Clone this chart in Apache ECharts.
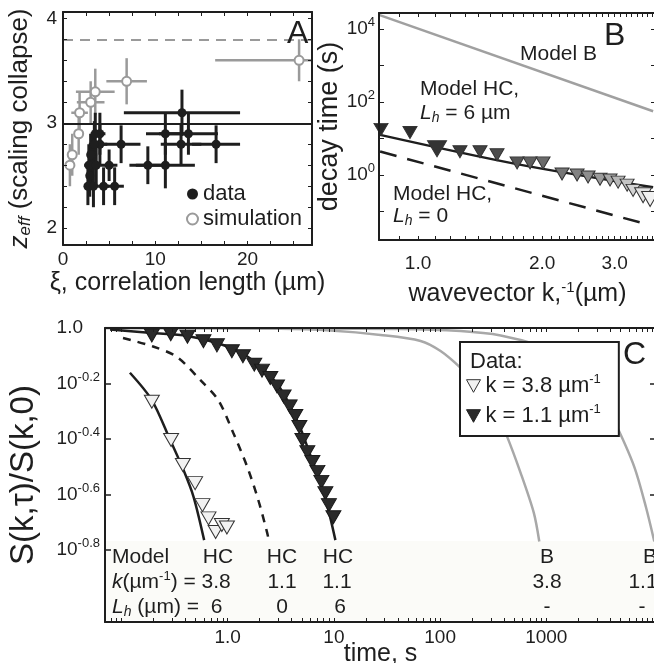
<!DOCTYPE html>
<html><head><meta charset="utf-8">
<script src="https://cdn.jsdelivr.net/npm/echarts@6/dist/echarts.min.js"></script>
<style>html,body{margin:0;padding:0;background:#fff}#c{width:654px;height:663px}</style>
</head><body><div id="c"></div>
<script>
// ---------- Panel A ----------
const aDataX    = [12.9, 11.1, 13.6, 12.8, 16.6, 6.3, 4.0, 4.0, 3.4, 3.5, 9.2, 11.1, 5.0, 3.2, 2.8, 5.6, 4.4, 2.7, 3.2, 2.9, 3.0, 3.3, 3.6];
const aDataY    = [3.1, 2.9, 2.9, 2.8, 2.8, 2.8, 2.9, 2.8, 2.8, 2.9, 2.6, 2.6, 2.6, 2.6, 2.6, 2.4, 2.4, 2.4, 2.7, 2.5, 2.7, 2.4, 2.6];
const aDataXErr = [6.3, 2.1, 3.2, 2.2, 2.6, 2.1, 0.6, 0.8, 0.6, 0.5, 2.0, 3.2, 0.9, 0.6, 0.5, 1.0, 0.6, 0.4, 0.5, 0.4, 0.4, 0.5, 0.5];
const aDataYErr = [0.22, 0.2, 0.2, 0.2, 0.18, 0.18, 0.2, 0.2, 0.22, 0.2, 0.18, 0.22, 0.15, 0.2, 0.2, 0.18, 0.18, 0.18, 0.2, 0.2, 0.2, 0.2, 0.2];
const aSimX     = [0.75, 1.0, 1.7, 1.8, 3.0, 3.5, 6.9, 25.6];
const aSimY     = [2.6, 2.7, 2.9, 3.1, 3.2, 3.3, 3.4, 3.6];
const aSimXErr  = [0.3, 0.4, 0.4, 0.9, 1.5, 2.1, 2.2, 9.1];
const aSimYErr  = [0.2, 0.2, 0.2, 0.2, 0.2, 0.22, 0.22, 0.2];
const aRefSolid = 3;
const aRefDashed = 3.8;
const aYLabels = [2, 3, 4];
const aXLabels = [0, 10, 20];

// ---------- Panel B ----------
const bK   = [0.813, 0.956, 1.112, 1.264, 1.414, 1.555, 1.739, 1.870, 2.011, 2.236, 2.432, 2.586, 2.765, 2.924, 3.058, 3.216, 3.325, 3.517, 3.658];
const bTau = [17.8, 14.7, 5.27, 4.35, 4.35, 3.59, 2.15, 2.15, 2.15, 1.07, 1.0, 0.88, 0.77, 0.73, 0.64, 0.53, 0.38, 0.28, 0.22];
const bModelBK = [0.804, 3.72],  bModelBTau = [24500, 56];
const bHC6K = [0.809, 1.70, 3.72], bHC6Tau = [12.6, 2.09, 0.46];
const bHC0K = [0.809, 3.56],     bHC0Tau = [4.4, 0.046];
const bXLabels = [1, 2, 3];
const bYLabels = [1, 100, 10000];

// ---------- Panel C ----------
const c38T = [0.193, 0.293, 0.378, 0.493, 0.578, 0.659, 0.770, 0.881, 0.983];
const c38S = [0.542, 0.395, 0.321, 0.276, 0.230, 0.206, 0.184, 0.195, 0.191];
const c11T = [0.193, 0.291, 0.418, 0.591, 0.791, 1.095, 1.391, 1.778, 2.102, 2.518, 2.912, 3.36, 3.83, 4.33, 4.73, 5.05, 5.62, 6.27, 6.99, 7.62, 8.31, 8.97, 9.89];
const c11S = [0.94, 0.95, 0.93, 0.896, 0.866, 0.824, 0.791, 0.738, 0.702, 0.660, 0.616, 0.567, 0.522, 0.482, 0.440, 0.395, 0.357, 0.329, 0.303, 0.279, 0.254, 0.230, 0.208];
const cHC38T = [0.120, 0.193, 0.287, 0.383, 0.476, 0.600];
const cHC38S = [0.690, 0.550, 0.395, 0.308, 0.247, 0.172];
const cHC11L0T = [0.1033, 0.198, 0.334, 0.551, 0.814, 1.127, 1.527, 1.94, 2.36, 2.437];
const cHC11L0S = [0.920, 0.858, 0.786, 0.650, 0.550, 0.419, 0.316, 0.240, 0.182, 0.171];
const cHC11L6T = [0.078, 0.194, 0.415, 0.796, 1.40, 2.11, 2.93, 3.80, 4.83, 6.00, 7.46, 8.87, 10.33];
const cHC11L6S = [0.988, 0.959, 0.936, 0.883, 0.806, 0.718, 0.628, 0.532, 0.436, 0.348, 0.279, 0.221, 0.172];
const cB38T = [0.0699, 3.13, 9.27, 27.5, 65.5, 101, 156, 241, 334, 415, 574, 762, 859];
const cB38S = [1.0, 0.993, 0.979, 0.944, 0.898, 0.826, 0.718, 0.603, 0.502, 0.418, 0.300, 0.216, 0.170];
const cB11T = [0.0699, 42.4, 156, 372, 887, 1370, 2115, 3266, 4695, 6736, 8685, 10400];
const cB11S = [1.0, 0.992, 0.975, 0.940, 0.861, 0.793, 0.700, 0.574, 0.436, 0.316, 0.226, 0.170];
const cXLabels = [1, 10, 100, 1000];
const cYExps = [-0.8, -0.6, -0.4, -0.2, 0];

// ---------- helpers ----------
const FONT = 'Liberation Sans, Arial, sans-serif';
const INK = '#1e1e1e';
const zip = (a, b) => a.map((v, i) => [v, b[i]]);
const zip4 = (a, b, c, d) => a.map((v, i) => [v, b[i], c[i], d[i]]);
const range = (a, b, s) => { const r = []; for (let v = a; v <= b + 1e-9; v += s) r.push(Math.round(v * 1000) / 1000); return r; };
const logTicks = (d0, d1) => { const r = []; for (let d = d0; d <= d1; d++) for (let m = 1; m < 10; m++) r.push(m * Math.pow(10, d)); return r; };
const supRich = { b: { fontSize: 19, fontFamily: FONT, color: INK }, s: { fontSize: 13, fontFamily: FONT, color: INK, padding: [0, 0, 13, 0] },
  p: { fontSize: 19, fontFamily: FONT, color: INK, padding: [0, 17, 0, 0] } };
const lineSt = { color: INK, width: 2 };

function boxAxis(o) {
  return Object.assign({
    z: 10,
    nameMoveOverlap: false,
    splitLine: { show: false },
    axisLine: { show: true, onZero: false, lineStyle: lineSt },
    axisTick: { show: true, inside: true, length: 4, lineStyle: { color: INK, width: 1 } },
    axisLabel: { show: false },
    nameTextStyle: { fontFamily: FONT, fontSize: 25, color: INK }
  }, o);
}

function errorBars(x, y, xe, ye, color, width) {
  return {
    type: 'custom', xAxisIndex: 0, yAxisIndex: 0, clip: true, silent: true, z: 3,
    data: zip4(x, y, xe, ye),
    encode: { x: 0, y: 1 },
    renderItem: (params, api) => {
      const vx = api.value(0), vy = api.value(1), ex = api.value(2), ey = api.value(3);
      const l = api.coord([vx - ex, vy]), r = api.coord([vx + ex, vy]);
      const t = api.coord([vx, vy + ey]), b = api.coord([vx, vy - ey]);
      const style = { stroke: color, lineWidth: width };
      return { type: 'group', children: [
        { type: 'line', shape: { x1: l[0], y1: l[1], x2: r[0], y2: r[1] }, style },
        { type: 'line', shape: { x1: t[0], y1: t[1], x2: b[0], y2: b[1] }, style }
      ] };
    }
  };
}

function grayShade(i, n) {
  const v = Math.round(0x2a + (0xf2 - 0x2a) * Math.pow(i / (n - 1), 1.4));
  const h = v.toString(16).padStart(2, '0');
  return '#' + h + h + h;
}

const txt = (x, y, text, extra) => ({
  type: 'text', x, y, z: 50,
  style: Object.assign({ text, font: '21px ' + FONT, fill: INK, textAlign: 'left', textVerticalAlign: 'middle' }, extra || {})
});
const italRich = {
  it: { fontStyle: 'italic', fontSize: 21, fontFamily: FONT, color: INK },
  sub: { fontStyle: 'italic', fontSize: 14, fontFamily: FONT, color: INK, padding: [10, 0, 0, 0] },
  sup: { fontSize: 13, fontFamily: FONT, color: INK, padding: [0, 0, 12, 0] },
  n: { fontSize: 21, fontFamily: FONT, color: INK }
};

const chart = echarts.init(document.getElementById('c'), null, { renderer: 'canvas' });

const gridBase = { show: false, containLabel: false, outerBoundsMode: 'none' };
const cYTicks = cYExps.map(e => Math.pow(10, e));
const option = {
  animation: false,
  backgroundColor: '#fff',
  textStyle: { fontFamily: FONT },
  grid: [
    Object.assign({ left: 63, top: 12, width: 249, height: 233 }, gridBase),
    Object.assign({ left: 379, top: 13, width: 277, height: 227 }, gridBase),
    Object.assign({ left: 105, top: 328, width: 551, height: 294 }, gridBase)
  ],
  xAxis: [
    boxAxis({ gridIndex: 0, type: 'value', min: 0, max: 27, position: 'bottom',
      axisTick: { show: true, inside: true, length: 4, customValues: range(0, 27, 2.5), lineStyle: { color: INK } },
      axisLabel: { show: true, customValues: aXLabels, fontSize: 19, color: INK, margin: 5, fontFamily: FONT },
      name: 'ξ, correlation length (µm)', nameLocation: 'middle', nameGap: 26 }),
    boxAxis({ gridIndex: 0, type: 'value', min: 0, max: 27, position: 'top',
      axisTick: { show: true, inside: true, length: 4, customValues: range(0, 27, 2.5), lineStyle: { color: INK } } }),
    boxAxis({ gridIndex: 1, type: 'log', min: 0.804, max: 3.78, position: 'bottom',
      axisTick: { show: true, inside: true, length: 4, customValues: range(0.9, 3.7, 0.1), lineStyle: { color: INK } },
      axisLabel: { show: true, customValues: bXLabels, fontSize: 19, color: INK, margin: 14, fontFamily: FONT, formatter: v => v.toFixed(1) },
      name: 'wavevector k,{s|-1}(µm)', nameLocation: 'middle', nameGap: 40,
      nameTextStyle: { fontFamily: FONT, fontSize: 25, color: INK, rich: { s: { fontSize: 15, fontFamily: FONT, color: INK, padding: [0, 0, 14, 0] } } } }),
    boxAxis({ gridIndex: 1, type: 'log', min: 0.804, max: 3.78, position: 'top',
      axisTick: { show: true, inside: true, length: 4, customValues: range(0.9, 3.7, 0.1), lineStyle: { color: INK } } }),
    boxAxis({ gridIndex: 2, type: 'log', min: 0.0699, max: 10790, position: 'bottom',
      axisTick: { show: true, inside: true, length: 4, customValues: logTicks(-2, 4), lineStyle: { color: INK } },
      axisLabel: { show: true, customValues: cXLabels, fontSize: 19, color: INK, margin: 6, fontFamily: FONT, formatter: v => v === 1 ? '1.0' : String(Math.round(v)) },
      name: 'time, s', nameLocation: 'middle', nameGap: 20, nameTextStyle: { fontFamily: FONT, fontSize: 25, color: INK } }),
    boxAxis({ gridIndex: 2, type: 'log', min: 0.0699, max: 10790, position: 'top',
      axisTick: { show: true, inside: true, length: 4, customValues: logTicks(-2, 4), lineStyle: { color: INK } } })
  ],
  yAxis: [
    boxAxis({ gridIndex: 0, type: 'value', min: 1.84, max: 4.06, position: 'left',
      axisTick: { show: true, inside: true, length: 4, customValues: range(2, 4, 0.2), lineStyle: { color: INK } },
      axisLabel: { show: true, customValues: aYLabels, fontSize: 19, color: INK, margin: 6, fontFamily: FONT },
      name: '{i|z}{sub|eff} (scaling collapse)', nameLocation: 'middle', nameGap: 29,
      nameTextStyle: { fontFamily: FONT, fontSize: 26, color: INK, rich: {
        i: { fontStyle: 'italic', fontSize: 26, fontFamily: FONT, color: INK },
        sub: { fontStyle: 'italic', fontSize: 17, fontFamily: FONT, color: INK, padding: [12, 0, 0, 0] } } } }),
    boxAxis({ gridIndex: 0, type: 'value', min: 1.84, max: 4.06, position: 'right',
      axisTick: { show: true, inside: true, length: 4, customValues: range(2, 4, 0.2), lineStyle: { color: INK } } }),
    boxAxis({ gridIndex: 1, type: 'log', min: 0.0166, max: 27540, position: 'left',
      axisTick: { show: true, inside: true, length: 5, customValues: [0.1, 1, 10, 100, 1000, 10000], lineStyle: { color: INK } },
      axisLabel: { show: true, customValues: bYLabels, margin: 4, rich: supRich,
        formatter: v => '{b|10}{s|' + Math.round(Math.log10(v)) + '}' },
      name: 'decay time (s)', nameLocation: 'middle', nameGap: 36, nameTextStyle: { fontFamily: FONT, fontSize: 27, color: INK } }),
    boxAxis({ gridIndex: 1, type: 'log', min: 0.0166, max: 27540, position: 'right',
      axisTick: { show: true, inside: true, length: 5, customValues: [0.1, 1, 10, 100, 1000, 10000], lineStyle: { color: INK } } }),
    boxAxis({ gridIndex: 2, type: 'log', min: 0.0872, max: 1, position: 'left',
      axisTick: { show: true, inside: true, length: 6, customValues: cYTicks, lineStyle: { color: INK, width: 1.5 } },
      axisLabel: { show: true, customValues: cYTicks, margin: 5, rich: supRich,
        formatter: v => { const e = Math.round(Math.log10(v) * 10) / 10; return e === 0 ? '{p|1.0}' : '{b|10}{s|' + e.toFixed(1) + '}'; } },
      name: 'S(k,τ)/S(k,0)', nameLocation: 'middle', nameGap: 65, nameTextStyle: { fontFamily: FONT, fontSize: 33, color: INK } }),
    boxAxis({ gridIndex: 2, type: 'log', min: 0.0872, max: 1, position: 'right',
      axisTick: { show: true, inside: true, length: 6, customValues: cYTicks, lineStyle: { color: INK, width: 1.5 } } })
  ],
  legend: [
    { orient: 'vertical', left: 186, top: 183, itemGap: 3, itemWidth: 11, itemHeight: 11,
      textStyle: { fontFamily: FONT, fontSize: 22, color: INK }, padding: 0,
      data: [
        { name: 'data', icon: 'circle', itemStyle: { color: INK, borderWidth: 0 } },
        { name: 'simulation', icon: 'circle', itemStyle: { color: '#fff', borderColor: '#9a9a9a', borderWidth: 2 } }
      ] },
    { orient: 'vertical', left: 460, top: 342, itemGap: 6, itemWidth: 14, itemHeight: 13,
      padding: [31, 18, 9, 6], borderColor: INK, borderWidth: 2, backgroundColor: '#fff', z: 20,
      textStyle: { fontFamily: FONT, fontSize: 22, color: INK, rich: { n: { fontSize: 22, fontFamily: FONT, color: INK }, s: { fontSize: 13, fontFamily: FONT, color: INK, padding: [0, 0, 13, 0] } } },
      formatter: name => '{n|' + name.replace('-1', '') + '}{s|-1}',
      data: [
        { name: 'k = 3.8 µm-1', icon: 'path://M0,0 L10,0 L5,9 Z', itemStyle: { color: '#f2f2f2', borderColor: '#333', borderWidth: 1 } },
        { name: 'k = 1.1 µm-1', icon: 'path://M0,0 L10,0 L5,9 Z', itemStyle: { color: '#2a2a2a', borderColor: '#222', borderWidth: 1 } }
      ] }
  ],
  series: [
    // Panel A
    errorBars(aSimX, aSimY, aSimXErr, aSimYErr, '#9a9a9a', 2.5),
    errorBars(aDataX, aDataY, aDataXErr, aDataYErr, INK, 3),
    { type: 'scatter', name: 'simulation', xAxisIndex: 0, yAxisIndex: 0, z: 4,
      data: zip(aSimX, aSimY), symbol: 'circle', symbolSize: 9,
      itemStyle: { color: '#fff', borderColor: '#9a9a9a', borderWidth: 2, opacity: 1 },
      markLine: { silent: true, symbol: 'none', label: { show: false }, animation: false,
        lineStyle: { color: '#9a9a9a', width: 2, type: [10, 7] }, data: [{ yAxis: aRefDashed }] } },
    { type: 'scatter', name: 'data', xAxisIndex: 0, yAxisIndex: 0, z: 4,
      data: zip(aDataX, aDataY), symbol: 'circle', symbolSize: 9,
      itemStyle: { color: INK, opacity: 1 },
      markLine: { silent: true, symbol: 'none', label: { show: false }, animation: false,
        lineStyle: { color: INK, width: 2, type: 'solid' }, data: [{ yAxis: aRefSolid }] } },
    // Panel B
    { type: 'line', name: 'Model B', xAxisIndex: 2, yAxisIndex: 2, data: zip(bModelBK, bModelBTau),
      symbol: 'none', lineStyle: { color: '#a0a0a0', width: 2.5 } },
    { type: 'line', name: 'Model HC L6', xAxisIndex: 2, yAxisIndex: 2, data: zip(bHC6K, bHC6Tau),
      symbol: 'none', smooth: 0.3, lineStyle: { color: INK, width: 2.5 } },
    { type: 'line', name: 'Model HC L0', xAxisIndex: 2, yAxisIndex: 2, data: zip(bHC0K, bHC0Tau),
      symbol: 'none', lineStyle: { color: INK, width: 2.5, type: [17, 11] } },
    { type: 'scatter', name: 'decay', xAxisIndex: 2, yAxisIndex: 2, z: 5,
      data: bK.map((k, i) => ({ value: [k, bTau[i]],
        symbolSize: i === 2 ? [19, 16] : (i >= bK.length - 2 ? [17, 15] : [14, 12]),
        itemStyle: { color: grayShade(i, bK.length) } })),
      symbol: 'triangle', symbolRotate: 180,
      itemStyle: { borderColor: '#333', borderWidth: 1, opacity: 1 } },
    // Panel C
    { type: 'line', name: 'B 3.8', xAxisIndex: 4, yAxisIndex: 4, data: zip(cB38T, cB38S),
      symbol: 'none', smooth: 0.3, lineStyle: { color: '#a8a8a8', width: 2.5 } },
    { type: 'line', name: 'B 1.1', xAxisIndex: 4, yAxisIndex: 4, data: zip(cB11T, cB11S),
      symbol: 'none', smooth: 0.3, lineStyle: { color: '#a8a8a8', width: 2.5 } },
    { type: 'line', name: 'HC 1.1 L0', xAxisIndex: 4, yAxisIndex: 4, data: zip(cHC11L0T, cHC11L0S),
      symbol: 'none', smooth: 0.3, lineStyle: { color: INK, width: 2.5, type: [8, 7] } },
    { type: 'line', name: 'HC 3.8 L6', xAxisIndex: 4, yAxisIndex: 4, data: zip(cHC38T, cHC38S),
      symbol: 'none', smooth: 0.3, lineStyle: { color: INK, width: 2.5 } },
    { type: 'line', name: 'HC 1.1 L6', xAxisIndex: 4, yAxisIndex: 4, data: zip(cHC11L6T, cHC11L6S),
      symbol: 'none', smooth: 0.3, lineStyle: { color: INK, width: 2.5 } },
    { type: 'scatter', name: 'k = 3.8 µm-1', xAxisIndex: 4, yAxisIndex: 4, z: 5,
      data: zip(c38T, c38S), symbol: 'triangle', symbolRotate: 180, symbolSize: [15, 13],
      itemStyle: { color: '#f2f2f2', borderColor: '#333', borderWidth: 1, opacity: 1 } },
    { type: 'scatter', name: 'k = 1.1 µm-1', xAxisIndex: 4, yAxisIndex: 4, z: 5,
      data: zip(c11T, c11S), symbol: 'triangle', symbolRotate: 180, symbolSize: [15, 13],
      itemStyle: { color: '#2a2a2a', borderColor: '#1a1a1a', borderWidth: 1, opacity: 1 } }
  ],
  graphic: [
    { type: 'rect', shape: { x: 106, y: 541, width: 550, height: 79 }, style: { fill: '#fbfbf8' }, z: 1, silent: true },
    txt(287, 34, 'A', { font: '32px ' + FONT }),
    txt(604, 36, 'B', { font: '32px ' + FONT }),
    txt(623, 355, 'C', { font: '32px ' + FONT }),
    txt(520, 54, 'Model B'),
    txt(420, 89, 'Model HC,'),
    txt(420, 113, '{it|L}{sub|h}{n| = 6 µm}', { rich: italRich }),
    txt(393, 194, 'Model HC,'),
    txt(393, 216, '{it|L}{sub|h}{n| = 0}', { rich: italRich }),
    txt(470, 362, 'Data:', { z: 100, font: '22px ' + FONT }),
    // table
    txt(112, 557, 'Model'),
    txt(218, 557, 'HC', { textAlign: 'center' }),
    txt(282, 557, 'HC', { textAlign: 'center' }),
    txt(338, 557, 'HC', { textAlign: 'center' }),
    txt(547, 557, 'B', { textAlign: 'center' }),
    txt(650, 557, 'B', { textAlign: 'center' }),
    txt(112, 582, '{it|k}{n|(µm}{sup|-1}{n|) = 3.8}', { rich: italRich }),
    txt(282, 582, '1.1', { textAlign: 'center' }),
    txt(337, 582, '1.1', { textAlign: 'center' }),
    txt(547, 582, '3.8', { textAlign: 'center' }),
    txt(643, 582, '1.1', { textAlign: 'center' }),
    txt(112, 607, '{it|L}{sub|h}{n| (µm) =  6}', { rich: italRich }),
    txt(282, 607, '0', { textAlign: 'center' }),
    txt(340, 607, '6', { textAlign: 'center' }),
    txt(547, 607, '-', { textAlign: 'center' }),
    txt(642, 607, '-', { textAlign: 'center' })
  ]
};
chart.setOption(option);
</script>
</body></html>
